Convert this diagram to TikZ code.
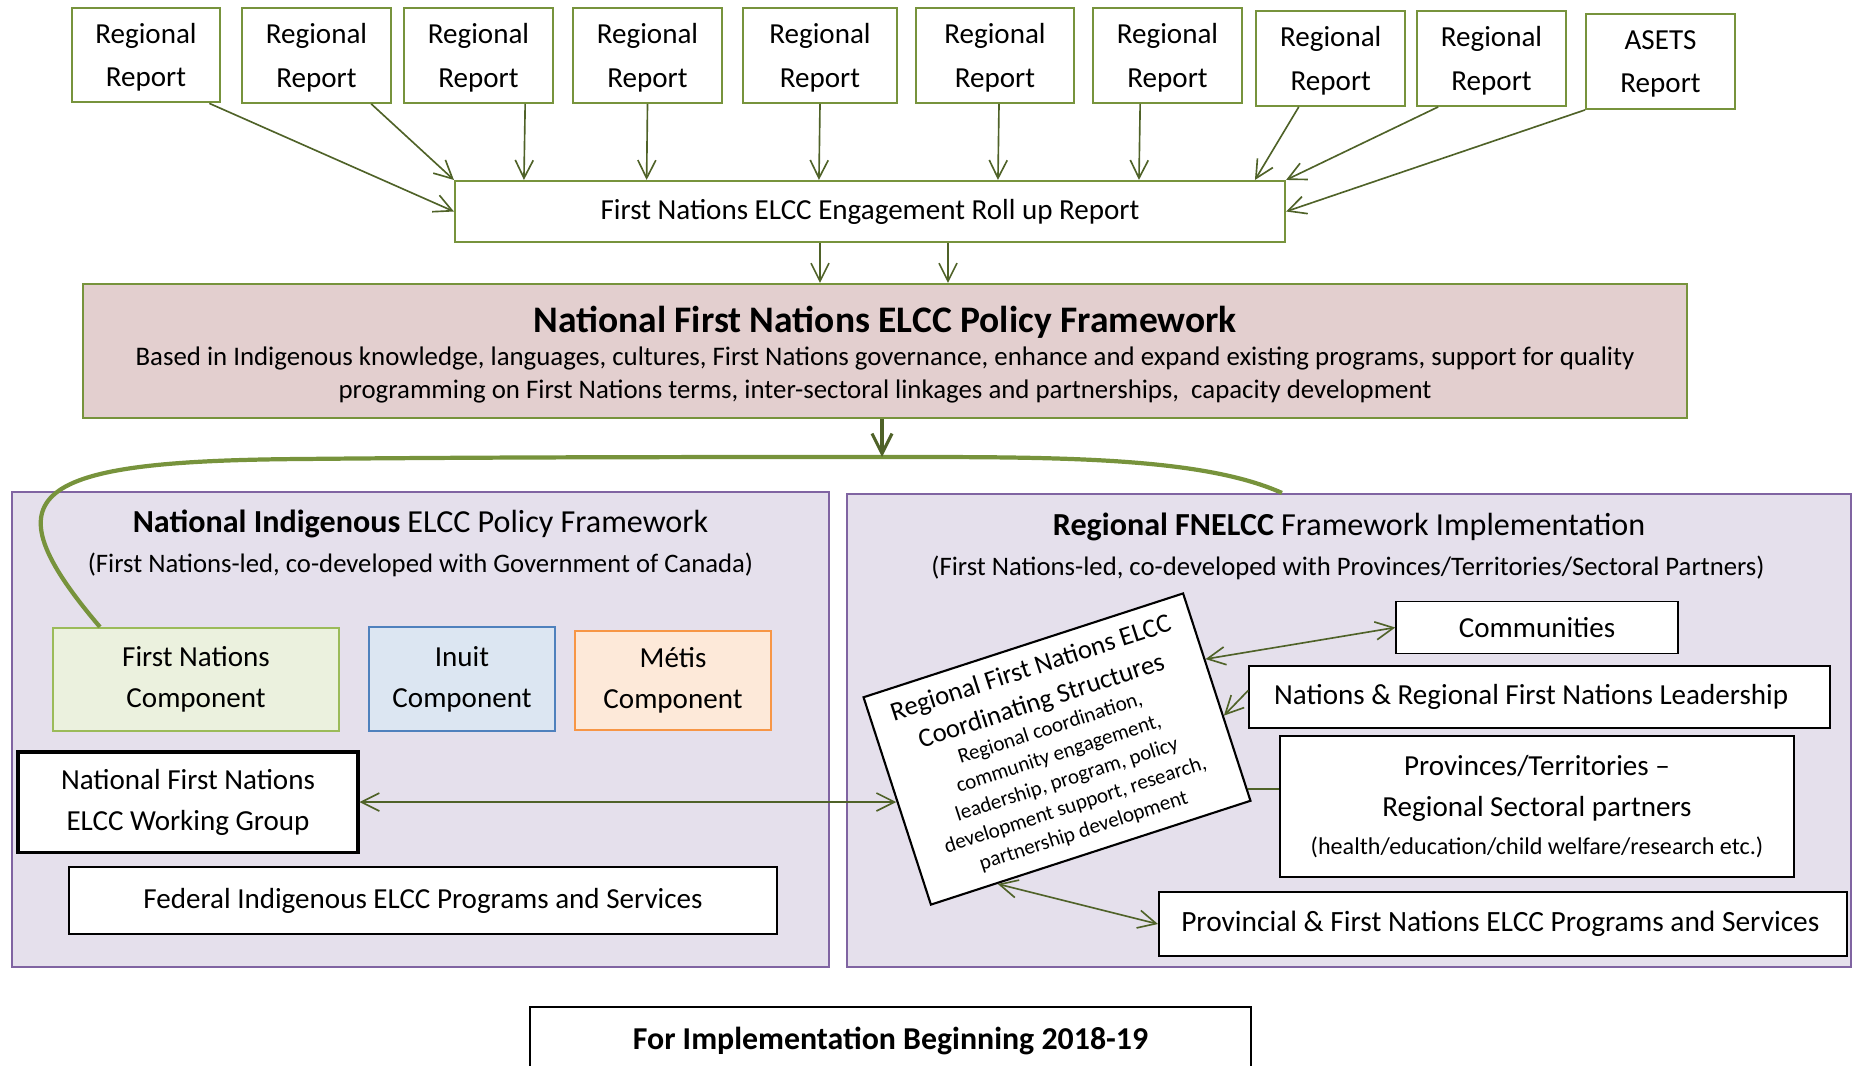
\documentclass[tikz,border=0pt]{standalone}
\usepackage{fontspec}
\setmainfont{Carlito}
\usetikzlibrary{arrows.meta,calc}

\definecolor{boxgreen}{HTML}{77933C}
\definecolor{linkgreen}{HTML}{4F6228}
\definecolor{rosefill}{HTML}{E3CFCF}
\definecolor{lilacfill}{HTML}{E5E0EC}
\definecolor{lilacline}{HTML}{8064A2}
\definecolor{fnfill}{HTML}{EBF1DE}
\definecolor{fnline}{HTML}{9BBB59}
\definecolor{inuitfill}{HTML}{DCE6F2}
\definecolor{inuitline}{HTML}{4F81BD}
\definecolor{metisfill}{HTML}{FDE9D9}
\definecolor{metisline}{HTML}{F79646}

\tikzset{
  report/.style={draw=boxgreen, line width=0.9pt, fill=white, align=center,
    minimum width=2.23cm, minimum height=1.42cm, inner sep=1pt, text depth=0pt,
    font=\fontsize{12.4}{18.5}\selectfont},
  whitebox/.style={draw=black, line width=0.6pt, fill=white, align=center, inner sep=1pt},
  panel/.style={draw=lilacline, line width=0.9pt, fill=lilacfill, inner sep=0pt},
  link/.style={draw=linkgreen, line width=0.7pt},
}

\begin{document}
\begin{tikzpicture}[x=0.015cm, y=-0.015cm,
    >={Straight Barb[length=2.7mm,width=2.7mm]},
    font=\fontsize{12.4}{17.5}\selectfont]
    \clip (0,0) rectangle (1854,1065);

    % Regional reports and roll up:
    \node[report] (r1) at (146,55) {Regional\\Report};
    \node[report] (r2) at (316.5,55.5) {Regional\\Report};
    \node[report] (r3) at (478.5,55.5) {Regional\\Report};
    \node[report] (r4) at (647.5,55.5) {Regional\\Report};
    \node[report, minimum width=2.31cm] (r5) at (820,55.5) {Regional\\Report};
    \node[report, minimum width=2.37cm] (r6) at (995,55.5) {Regional\\Report};
    \node[report] (r7) at (1167.5,55.5) {Regional\\Report};
    \node[report] (r8) at (1330.75,58.5) {Regional\\Report};
    \node[report] (r9) at (1491.5,58.5) {Regional\\Report};
    \node[report] (asets) at (1660.5,61.5) {ASETS\\Report};
    \node[report, minimum width=12.45cm, minimum height=0.915cm, text depth=] (rollup) at (870,211.5)
        {First Nations ELCC Engagement Roll up Report};

    \draw[link,->] ([xshift=-0.18cm]r1.south east) -- (rollup.west);
    \draw[link,->] ([xshift=-0.31cm]r2.south east) -- (rollup.north west);
    \draw[link,->] ([xshift=0.7cm]r3.south) -- ([xshift=1.05cm]rollup.north west);
    \draw[link,->] (r4.south) -- ([xshift=2.89cm]rollup.north west);
    \draw[link,->] (r5.south) -- ([xshift=5.475cm]rollup.north west);
    \draw[link,->] ([xshift=0.06cm]r6.south) -- ([xshift=8.16cm]rollup.north west);
    \draw[link,->] ([xshift=-0.41cm]r7.south) -- ([xshift=10.275cm]rollup.north west);
    \draw[link,->] ([xshift=-0.48cm]r8.south) -- ([xshift=12.015cm]rollup.north west);
    \draw[link,->] ([xshift=-0.8cm]r9.south) -- (rollup.north east);
    \draw[link,->] (asets.south west) -- (rollup.east);

    % National framework:
    \node[draw=boxgreen, line width=0.9pt, fill=rosefill, minimum width=24.06cm,
        minimum height=2.01cm, inner sep=0pt] (nfw) at (885,351) {};
    \node[anchor=base, font=\fontsize{16}{19}\selectfont\bfseries] (nfwtitle) at (885,332)
        {National First Nations ELCC Policy Framework};
    \node[anchor=base, font=\fontsize{11.45}{14.1}\selectfont] (nfwline1) at (885,365)
        {Based in Indigenous knowledge, languages, cultures, First Nations governance, enhance and expand existing programs, support for quality};
    \node[anchor=base, font=\fontsize{11.45}{14.1}\selectfont] (nfwline2) at (885,398)
        {programming on First Nations terms, inter-sectoral linkages and partnerships,~ capacity development};
    \draw[link,->] ([xshift=-0.75cm]rollup.south) -- ([xshift=-0.975cm]nfw.north);
    \draw[link,->] ([xshift=1.17cm]rollup.south) -- ([xshift=0.945cm]nfw.north);

    % Panels:
    \node[panel, minimum width=12.255cm, minimum height=7.125cm] (lpanel) at (420.5,729.5) {};
    \node[panel, minimum width=15.06cm, minimum height=7.095cm] (rpanel) at (1349,730.5) {};
    \node[anchor=base, font=\fontsize{13.7}{16}\selectfont] (ltitle) at (420.5,532)
        {\textbf{National Indigenous} ELCC Policy Framework};
    \node[anchor=base, font=\fontsize{11.4}{14}\selectfont] (lsub) at (420.5,572)
        {(First Nations-led, co-developed with Government of Canada)};
    \node[anchor=base, font=\fontsize{13.7}{16}\selectfont] (rtitle) at (1349,535)
        {\textbf{Regional FNELCC} Framework Implementation};
    \node[anchor=base, font=\fontsize{11.4}{14}\selectfont] (rsub) at (1348,575)
        {(First Nations-led, co-developed with Provinces/Territories/Sectoral Partners)};

    % Left panel boxes:
    \node[draw=fnline, fill=fnfill, line width=0.9pt, align=center, minimum width=4.29cm,
        minimum height=1.545cm] (fnc) at (196,679.5) {First Nations\\Component};
    \node[draw=inuitline, fill=inuitfill, line width=0.6pt, align=center, minimum width=2.79cm,
        minimum height=1.56cm] (inuit) at (462,679) {Inuit\\Component};
    \node[draw=metisline, fill=metisfill, line width=0.7pt, align=center, minimum width=2.94cm,
        minimum height=1.485cm] (metis) at (673,680.5) {Métis\\Component};
    \node[whitebox, line width=1.3pt, minimum width=5.1cm, minimum height=1.5cm] (wg) at (188,802)
        {National First Nations\\ELCC Working Group};
    \node[whitebox, minimum width=10.62cm, minimum height=1.005cm] (fed) at (423,900.5)
        {Federal Indigenous ELCC Programs and Services};

    % Right panel boxes:
    \node[whitebox, line width=0.9pt, rotate=18, minimum width=5.04cm, minimum height=3.27cm,
        text width=4.9cm, align=flush center] (coord) at (1057,749)
        {{\fontsize{11.4}{14.7}\selectfont Regional First Nations ELCC\\ Coordinating Structures\par}
         {\fontsize{9}{11.5}\selectfont Regional coordination,\\ community engagement,\\ leadership, program, policy\\
          development support, research,\\ partnership development\par}};
    \node[whitebox, minimum width=4.23cm, minimum height=0.78cm] (comm) at (1537,627.5) {Communities};
    \node[whitebox, minimum width=8.715cm, minimum height=0.93cm] (lead) at (1539.5,697)
        {Nations \& Regional First Nations Leadership\hspace{0.25cm}};
    \node[whitebox, line width=0.9pt, minimum width=7.71cm, minimum height=2.115cm, text width=7.5cm,
        align=flush center] (prov) at (1537,806.5)
        {Provinces/Territories --\\ Regional Sectoral partners\par
         {\fontsize{10.3}{16.2}\selectfont (health/education/child welfare/research etc.)\par}};
    \node[whitebox, line width=0.9pt, minimum width=10.32cm, minimum height=0.96cm,
        font=\fontsize{12.55}{17.5}\selectfont] (provsvc) at (1503,924)
        {Provincial \& First Nations ELCC Programs and Services\hspace{0.08cm}};

    % Curve and connectors:
    \coordinate (bend) at (882,457);
    \draw[boxgreen, line width=1.8pt] ([xshift=0.72cm]fnc.north west)
        .. controls (-15,492) and (30,461) .. (300,459)
        .. controls (500,457) and (700,457) .. (bend)
        .. controls (1050,457) and (1200,456) .. ([xshift=6.54cm]rpanel.north west);
    \draw[link, line width=1.3pt, -{Straight Barb[length=3mm,width=3mm]}] (nfw.south -| bend) -- (bend);

    \draw[link,<->] (wg.east) -- (wg.east -| coord.west);
    \draw[link,<->] ($(coord.north east)!0.32!(coord.south east)$) -- (comm.west);
    \draw[link,->] ([yshift=0.1cm]lead.west) -- ($(coord.north east)!0.59!(coord.south east)$);
    \coordinate (cp) at ($(coord.north east)!0.94!(coord.south east)$);
    \draw[link] (cp) -- (cp -| prov.west);
    \draw[link,<->] ($(coord.south west)!0.21!(coord.south east)$) -- (provsvc.west);

    % Bottom note:
    \node[whitebox, line width=0.9pt, minimum width=10.815cm, minimum height=1.02cm,
        font=\fontsize{13.6}{16}\selectfont\bfseries] (impl) at (890.5,1041)
        {For Implementation Beginning 2018-19};
\end{tikzpicture}
\end{document}
